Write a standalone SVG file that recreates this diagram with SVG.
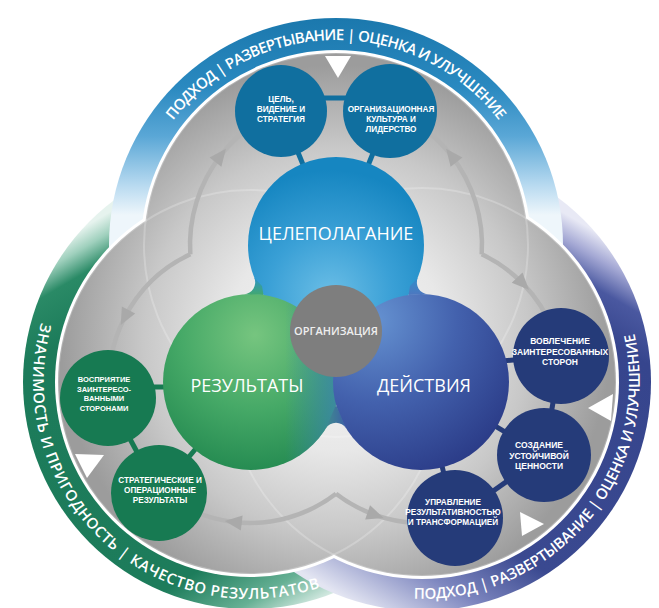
<svg xmlns="http://www.w3.org/2000/svg" width="659" height="608" viewBox="0 0 659 608">
<defs>
<style>
.band{font-family:"Open Sans","Liberation Sans",sans-serif;font-weight:600;fill:#ffffff;}
.big{font-family:"Open Sans","Liberation Sans",sans-serif;fill:#ffffff;text-anchor:middle;}
.org{font-family:"Open Sans","Liberation Sans",sans-serif;font-weight:600;fill:#eeeeee;text-anchor:middle;}
.sm{font-family:"Liberation Sans",Arial,sans-serif;font-weight:700;fill:#ffffff;text-anchor:middle;}
.ctop{fill:#106f9f;}
.cleft{fill:#177a52;}
.cright{fill:#253b79;}
.ltop{stroke:#106f9f;stroke-width:5;fill:none;}
.lleft{stroke:#177a52;stroke-width:5;fill:none;}
.lright{stroke:#253b79;stroke-width:5;fill:none;}
.arrow{fill:none;stroke:#b4b4b4;stroke-width:4.5;marker-mid:url(#ah);}
.tri{fill:#ffffff;}
.inner{fill:url(#gGray);}
.lens{fill:none;stroke:#ffffff;stroke-opacity:0.22;stroke-width:2;}
</style>
<marker id="ah" viewBox="-2 -10 22 20" markerWidth="22" markerHeight="20" refX="9" refY="0" orient="auto" markerUnits="userSpaceOnUse">
<path d="M0,-7.5 L17,0 L0,7.5 Z" fill="#a9a9a9"/>
</marker>
<linearGradient id="gTopBand" gradientUnits="userSpaceOnUse" x1="0" y1="18" x2="0" y2="215">
<stop offset="0" stop-color="#1b78ad"/>
<stop offset="0.35" stop-color="#2a89c0"/>
<stop offset="0.6" stop-color="#5aa7d6"/>
<stop offset="0.85" stop-color="#b8daf0"/>
<stop offset="1" stop-color="#eef6fb"/>
</linearGradient>
<linearGradient id="gLeftBand" gradientUnits="userSpaceOnUse" x1="113" y1="210" x2="337" y2="592">
<stop offset="0" stop-color="#e6f3ee"/>
<stop offset="0.04" stop-color="#9fd0bd"/>
<stop offset="0.09" stop-color="#2a8a66"/>
<stop offset="0.2" stop-color="#1c7b5a"/>
<stop offset="0.8" stop-color="#1d7c5b"/>
<stop offset="0.92" stop-color="#66b094"/>
<stop offset="1" stop-color="#d9ece5"/>
</linearGradient>
<linearGradient id="gRightBand" gradientUnits="userSpaceOnUse" x1="559" y1="210" x2="335" y2="592">
<stop offset="0" stop-color="#e8e9f5"/>
<stop offset="0.05" stop-color="#a4a8d4"/>
<stop offset="0.11" stop-color="#4a58a0"/>
<stop offset="0.2" stop-color="#36458d"/>
<stop offset="0.72" stop-color="#3a4990"/>
<stop offset="0.86" stop-color="#7d86bf"/>
<stop offset="1" stop-color="#e3e5f2"/>
</linearGradient>
<radialGradient id="gGray" gradientUnits="userSpaceOnUse" cx="336" cy="340" r="275">
<stop offset="0" stop-color="#f6f6f6"/>
<stop offset="0.4" stop-color="#e8e8e8"/>
<stop offset="0.7" stop-color="#c8c8c8"/>
<stop offset="1" stop-color="#9c9c9c"/>
</radialGradient>
<radialGradient id="gPurpose" gradientUnits="userSpaceOnUse" cx="330" cy="295" r="125">
<stop offset="0" stop-color="#6bbee6"/>
<stop offset="0.5" stop-color="#3aa0d6"/>
<stop offset="1" stop-color="#1686c1"/>
</radialGradient>
<radialGradient id="gResults" gradientUnits="userSpaceOnUse" cx="255" cy="335" r="135">
<stop offset="0" stop-color="#76c57f"/>
<stop offset="0.55" stop-color="#46a967"/>
<stop offset="1" stop-color="#268c52"/>
</radialGradient>
<linearGradient id="gResultsTint" gradientUnits="userSpaceOnUse" x1="285" y1="0" x2="340" y2="0">
<stop offset="0" stop-color="#3d86b0" stop-opacity="0"/>
<stop offset="1" stop-color="#3d86b0" stop-opacity="0.85"/>
</linearGradient>
<radialGradient id="gExec" gradientUnits="userSpaceOnUse" cx="375" cy="320" r="165">
<stop offset="0" stop-color="#6592d1"/>
<stop offset="0.5" stop-color="#4361ad"/>
<stop offset="1" stop-color="#2b3c88"/>
</radialGradient>
<linearGradient id="gFilTL" gradientUnits="userSpaceOnUse" x1="0" y1="277" x2="0" y2="296">
<stop offset="0" stop-color="#2a93cd"/>
<stop offset="1" stop-color="#44a96a"/>
</linearGradient>
<linearGradient id="gFilTR" gradientUnits="userSpaceOnUse" x1="0" y1="277" x2="0" y2="296">
<stop offset="0" stop-color="#2f8fcb"/>
<stop offset="1" stop-color="#4f76bf"/>
</linearGradient>
<linearGradient id="gFilB" gradientUnits="userSpaceOnUse" x1="324" y1="0" x2="348" y2="0">
<stop offset="0" stop-color="#3f8f8c"/>
<stop offset="1" stop-color="#3d5ca8"/>
</linearGradient>
<path id="tpTop" d="M158.5,142.5 A205,205 0 0 1 513.5,142.5"/>
<path id="tpLeft" d="M46.1,307.8 A217,217 0 0 0 341.7,578.7"/>
<path id="tpRight" d="M384.3,595.7 A218,218 0 0 0 626.9,307.4"/>
</defs>

<g id="outer-ring">
<circle cx="250" cy="382" r="227" fill="url(#gLeftBand)"/>
<circle cx="422" cy="382" r="229" fill="url(#gRightBand)"/>
<circle cx="336" cy="245" r="227" fill="url(#gTopBand)"/>
<circle cx="336" cy="245" r="195" fill="#ffffff"/>
<circle cx="250" cy="382" r="195" fill="#ffffff"/>
<circle cx="422" cy="382" r="197" fill="#ffffff"/>
<circle cx="336" cy="245" r="192" class="inner"/>
<circle cx="250" cy="382" r="192" class="inner"/>
<circle cx="422" cy="382" r="194" class="inner"/>
<circle cx="336" cy="245" r="192" class="lens"/>
<circle cx="250" cy="382" r="192" class="lens"/>
<circle cx="422" cy="382" r="194" class="lens"/>
</g>

<g id="ring-labels">
<text class="band" font-size="15"><textPath href="#tpTop" startOffset="214.6" text-anchor="middle" textLength="376" lengthAdjust="spacing">ПОДХОД | РАЗВЕРТЫВАНИЕ | ОЦЕНКА И УЛУЧШЕНИЕ</textPath></text>
<text class="band" font-size="15"><textPath href="#tpLeft" startOffset="251.7" text-anchor="middle" textLength="472" lengthAdjust="spacing">ЗНАЧИМОСТЬ И ПРИГОДНОСТЬ | КАЧЕСТВО РЕЗУЛЬТАТОВ</textPath></text>
<text class="band" font-size="15"><textPath href="#tpRight" startOffset="228.7" text-anchor="middle" textLength="398" lengthAdjust="spacing">ПОДХОД | РАЗВЕРТЫВАНИЕ | ОЦЕНКА И УЛУЧШЕНИЕ</textPath></text>
</g>

<g id="cycle-markers">
<polygon class="tri" points="325,56 351,56 338,78"/>
<polygon class="tri" points="75,454 104,455 87,478"/>
<polygon class="tri" points="588,408 613,394 611,421"/>
<polygon class="tri" points="520,512 544,524 522,536"/>
</g>

<g id="connectors">
<path class="arrow" d="M190.3,254.3 A146,146 0 0 1 221,155.1 A146,146 0 0 1 246.1,130"/>
<path class="arrow" d="M481.7,254.3 A146,146 0 0 0 451,155.1 A146,146 0 0 0 425.9,130"/>
<path class="arrow" d="M190.3,254.3 A141,141 0 0 0 124.4,318 A141,141 0 0 0 111.1,357.5"/>
<path class="arrow" d="M336,493.7 A141,141 0 0 1 232.8,521.9 A141,141 0 0 1 192.7,510.8"/>
<path class="arrow" d="M481.7,254.3 A141,141 0 0 1 523.4,284.1 A141,141 0 0 1 552.7,329.2"/>
<path class="arrow" d="M336,493.7 A141,141 0 0 0 376.1,515.3 A141,141 0 0 0 414.6,522.8"/>
<line class="ltop" x1="300" y1="98" x2="372" y2="98"/>
<line class="ltop" x1="281" y1="111" x2="336" y2="245"/>
<line class="ltop" x1="390" y1="111" x2="336" y2="245"/>
<line class="lleft" x1="140" y1="387" x2="200" y2="387"/>
<line class="lleft" x1="108" y1="398" x2="159" y2="493"/>
<line class="lleft" x1="159" y1="493" x2="251" y2="382"/>
<line class="lright" x1="535" y1="358" x2="480" y2="363"/>
<line class="lright" x1="561" y1="356" x2="544" y2="455"/>
<line class="lright" x1="544" y1="455" x2="421" y2="382"/>
<line class="lright" x1="455" y1="518" x2="421" y2="382"/>
<line class="lright" x1="455" y1="518" x2="544" y2="455"/>
</g>

<g id="node-purpose">
<circle cx="336" cy="245" r="88" fill="url(#gPurpose)"/>
<text class="big" font-size="18" x="336" y="240">ЦЕЛЕПОЛАГАНИЕ</text>
</g>
<g id="node-results">
<circle cx="251" cy="382" r="88" fill="url(#gResults)"/>
<circle cx="251" cy="382" r="88" fill="url(#gResultsTint)"/>
<text class="big" font-size="18" x="247" y="392">РЕЗУЛЬТАТЫ</text>
</g>
<g id="node-execution">
<circle cx="421" cy="382" r="88" fill="url(#gExec)"/>
<text class="big" font-size="18" x="424" y="392">ДЕЙСТВИЯ</text>
</g>
<g id="core-joins">
<path d="M254.3,277.8 A12,12 0 0 1 244.1,294.3 L263.5,294.9 L262,286 Z" fill="url(#gFilTL)"/>
<path d="M417.7,277.8 A12,12 0 0 0 427.9,294.3 L408.5,294.9 L410,286 Z" fill="url(#gFilTR)"/>
<path d="M325.8,428.4 A12,12 0 0 1 346.2,428.4 L336,404.8 Z" fill="url(#gFilB)"/>
</g>
<g id="node-organization">
<circle cx="336" cy="331" r="46" fill="#7e7e7e"/>
<text class="org" font-size="11" x="336" y="335">ОРГАНИЗАЦИЯ</text>
</g>

<g id="node-goal">
<circle class="ctop" cx="281" cy="111" r="46"/>
<text class="sm" font-size="8.2" x="281" y="102">ЦЕЛЬ,</text>
<text class="sm" font-size="8.2" x="281" y="112">ВИДЕНИЕ И</text>
<text class="sm" font-size="8.2" x="281" y="122">СТРАТЕГИЯ</text>
</g>
<g id="node-culture">
<circle class="ctop" cx="390" cy="111" r="47"/>
<text class="sm" font-size="8.2" x="391" y="112">ОРГАНИЗАЦИОННАЯ</text>
<text class="sm" font-size="8.2" x="391" y="122">КУЛЬТУРА И</text>
<text class="sm" font-size="8.2" x="391" y="132">ЛИДЕРСТВО</text>
</g>
<g id="node-perception">
<circle class="cleft" cx="108" cy="398" r="48"/>
<text class="sm" font-size="7.5" x="104" y="382">ВОСПРИЯТИЕ</text>
<text class="sm" font-size="7.5" x="104" y="391.5">ЗАИНТЕРЕСО-</text>
<text class="sm" font-size="7.5" x="104" y="401">ВАННЫМИ</text>
<text class="sm" font-size="7.5" x="104" y="410.5">СТОРОНАМИ</text>
</g>
<g id="node-strategic">
<circle class="cleft" cx="159" cy="493" r="48"/>
<text class="sm" font-size="8.2" x="160" y="483">СТРАТЕГИЧЕСКИЕ И</text>
<text class="sm" font-size="8.2" x="160" y="493">ОПЕРАЦИОННЫЕ</text>
<text class="sm" font-size="8.2" x="160" y="503">РЕЗУЛЬТАТЫ</text>
</g>
<g id="node-engage">
<circle class="cright" cx="561" cy="356" r="48"/>
<text class="sm" font-size="8.5" x="560" y="343.5">ВОВЛЕЧЕНИЕ</text>
<text class="sm" font-size="8.5" x="560" y="354.5">ЗАИНТЕРЕСОВАННЫХ</text>
<text class="sm" font-size="8.5" x="560" y="365">СТОРОН</text>
</g>
<g id="node-value">
<circle class="cright" cx="544" cy="455" r="47"/>
<text class="sm" font-size="8.5" x="539" y="448">СОЗДАНИЕ</text>
<text class="sm" font-size="8.5" x="539" y="458.5">УСТОЙЧИВОЙ</text>
<text class="sm" font-size="8.5" x="539" y="469">ЦЕННОСТИ</text>
</g>
<g id="node-performance">
<circle class="cright" cx="455" cy="518" r="48"/>
<text class="sm" font-size="8.2" x="453" y="505">УПРАВЛЕНИЕ</text>
<text class="sm" font-size="8.2" x="453" y="515">РЕЗУЛЬТАТИВНОСТЬЮ</text>
<text class="sm" font-size="8.2" x="453" y="525">И ТРАНСФОРМАЦИЕЙ</text>
</g>
</svg>
